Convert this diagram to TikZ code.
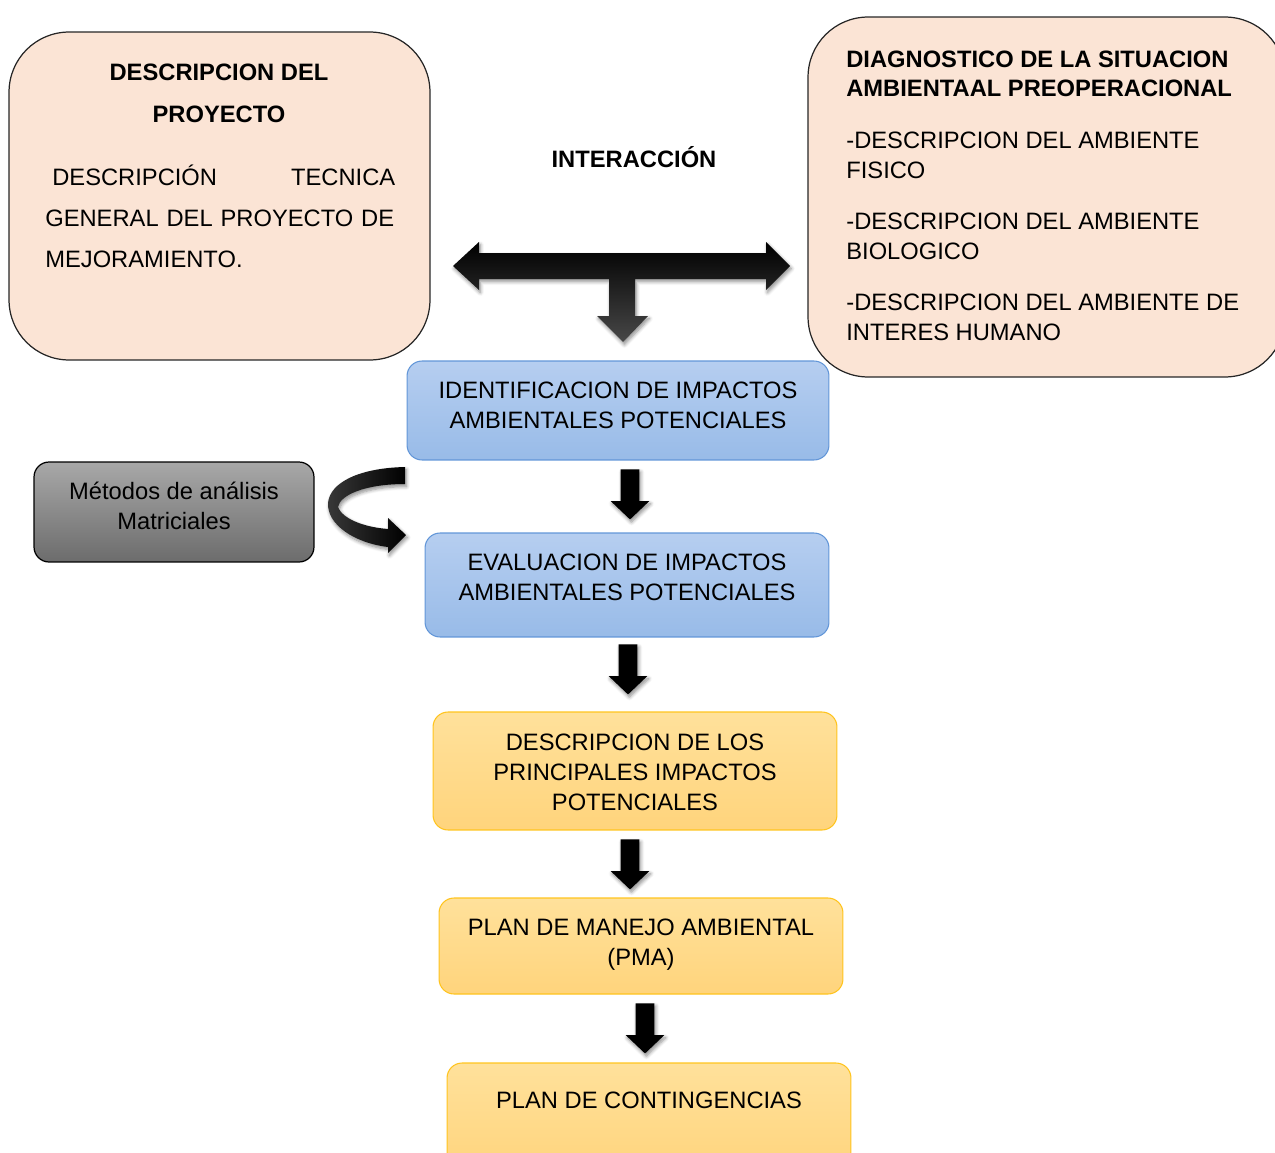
\documentclass[tikz,border=0pt]{standalone}
\usepackage{fontspec}
\setmainfont{Liberation Sans}
\usetikzlibrary{shapes.arrows,shadows.blur}

\definecolor{peach}{RGB}{251,228,213}
\definecolor{bluetop}{RGB}{182,206,240}
\definecolor{bluebot}{RGB}{152,187,232}
\definecolor{blueedge}{RGB}{98,150,216}
\definecolor{orangetop}{RGB}{255,225,155}
\definecolor{orangebot}{RGB}{255,212,124}
\definecolor{orangeedge}{RGB}{255,196,30}
\definecolor{greytop}{RGB}{168,168,168}
\definecolor{greybot}{RGB}{108,108,108}

\begin{document}
\begin{tikzpicture}[x=0.02cm,y=-0.02cm,
  txt/.style={inner sep=0pt, font=\fontsize{13.5}{17}\selectfont},
  boldtxt/.style={inner sep=0pt, font=\bfseries\fontsize{13.5}{17}\selectfont},
  peachbox/.style={draw=black!85, line width=0.7pt, fill=peach, rounded corners=1.2cm},
  bluebox/.style={draw=blueedge, line width=0.6pt, top color=bluetop, bottom color=bluebot,
    rounded corners=0.3cm, minimum width=8.08cm},
  orangebox/.style={draw=orangeedge, line width=0.6pt, top color=orangetop, bottom color=orangebot,
    rounded corners=0.3cm, minimum width=8.08cm},
  greybox/.style={draw=black, line width=0.7pt, top color=greytop, bottom color=greybot,
    rounded corners=0.3cm},
  softshadow/.style={blur shadow={shadow xshift=0.8pt, shadow yshift=-1.5pt,
    shadow blur radius=2pt, shadow blur steps=6, shadow opacity=45}},
  blockarrow/.style={single arrow, rotate=-90, draw=none, fill=black,
    inner xsep=0pt, inner ysep=0.18cm, text height=0pt, text depth=0pt,
    single arrow head extend=0.2cm, single arrow tip angle=93,
    minimum height=1cm, softshadow}]

\useasboundingbox (0,0) rectangle (1275,1153);

% ---- project description (left)
\node[peachbox, minimum width=8.42cm, minimum height=6.56cm] (proj) at (219.5,196) {};
\node[boldtxt, align=center, font=\bfseries\fontsize{13.5}{23.8}\selectfont]
  (projtitle) at (219,93) {DESCRIPCION DEL\\PROYECTO};
\node[txt, anchor=west, text width=7.0cm, align=left, font=\fontsize{13.5}{23.5}\selectfont]
  (projbody) at (45,216.5)
  {\hspace*{0.14cm}DESCRIPCIÓN\hfill TECNICA\\GENERAL DEL PROYECTO DE\\MEJORAMIENTO.};

% ---- environmental baseline (right)
\node[peachbox, minimum width=9.54cm, minimum height=7.2cm] (diag) at (1046.5,197) {};
\node[boldtxt, anchor=west, align=left, font=\bfseries\fontsize{13.5}{16.4}\selectfont]
  (diagtitle) at (846,73.5) {DIAGNOSTICO DE LA SITUACION\\AMBIENTAAL PREOPERACIONAL};
\node[txt, anchor=west, align=left] (diagfis) at (846,155)
  {-DESCRIPCION DEL AMBIENTE\\FISICO};
\node[txt, anchor=west, align=left] (diagbio) at (846,236)
  {-DESCRIPCION DEL AMBIENTE\\BIOLOGICO};
\node[txt, anchor=west, align=left] (diaghum) at (846,317)
  {-DESCRIPCION DEL AMBIENTE DE\\INTERES HUMANO};

% ---- interaction arrow
\node[boldtxt] (inter) at (634,157) {INTERACCIÓN};
\path[softshadow, top color=black, middle color=black, bottom color=black!72]
  (453,266) -- (479,242) -- (479,253) -- (766,253) -- (766,242) -- (790,266)
  -- (766,290) -- (766,279) -- (635,279) -- (635,316) -- (648,316) -- (623,342)
  -- (597,316) -- (609,316) -- (609,279) -- (479,279) -- (479,290) -- cycle;

% ---- process chain
\node[bluebox, minimum width=8.44cm, minimum height=1.98cm] (ident) at (618,410.5) {};
\node[txt, align=center] (identtxt) at (618,405)
  {IDENTIFICACION DE IMPACTOS\\AMBIENTALES POTENCIALES};

\node[greybox, minimum width=5.6cm, minimum height=2.0cm] (metod) at (174,512) {};
\node[txt, align=center] (metodtxt) at (174,505.5) {Métodos de análisis\\Matriciales};

% curved ribbon arrow from the methods into the evaluation
\path[softshadow, left color=black!78, right color=black]
  (405,467) .. controls (360,468) and (330,482) .. (328,503)
  .. controls (327,525) and (355,543) .. (388,547)
  -- (388,553) -- (406,535) -- (388,518) -- (388,529)
  .. controls (362,527) and (342,518) .. (338,507)
  .. controls (340,495) and (365,484) .. (405,484) -- cycle;

\node[blockarrow] (ar1) at (630,490) {};

\node[bluebox, minimum height=2.08cm] (eval) at (627,585) {};
\node[txt, align=center] (evaltxt) at (627,577)
  {EVALUACION DE IMPACTOS\\AMBIENTALES POTENCIALES};

\node[blockarrow] (ar2) at (628,665) {};

\node[orangebox, minimum height=2.36cm] (desc) at (635,771) {};
\node[txt, align=center] (desctxt) at (635,772)
  {DESCRIPCION DE LOS\\PRINCIPALES IMPACTOS\\POTENCIALES};

\node[blockarrow] (ar3) at (630,860) {};

\node[orangebox, minimum height=1.92cm] (pma) at (641,946) {};
\node[txt, align=center] (pmatxt) at (641,945) {PLAN DE MANEJO AMBIENTAL\\(PMA)};

\node[blockarrow] (ar4) at (645,1024) {};

\node[orangebox, minimum height=2.24cm] (cont) at (649,1119) {};
\node[txt] (conttxt) at (649,1100) {PLAN DE CONTINGENCIAS};

\end{tikzpicture}
\end{document}
